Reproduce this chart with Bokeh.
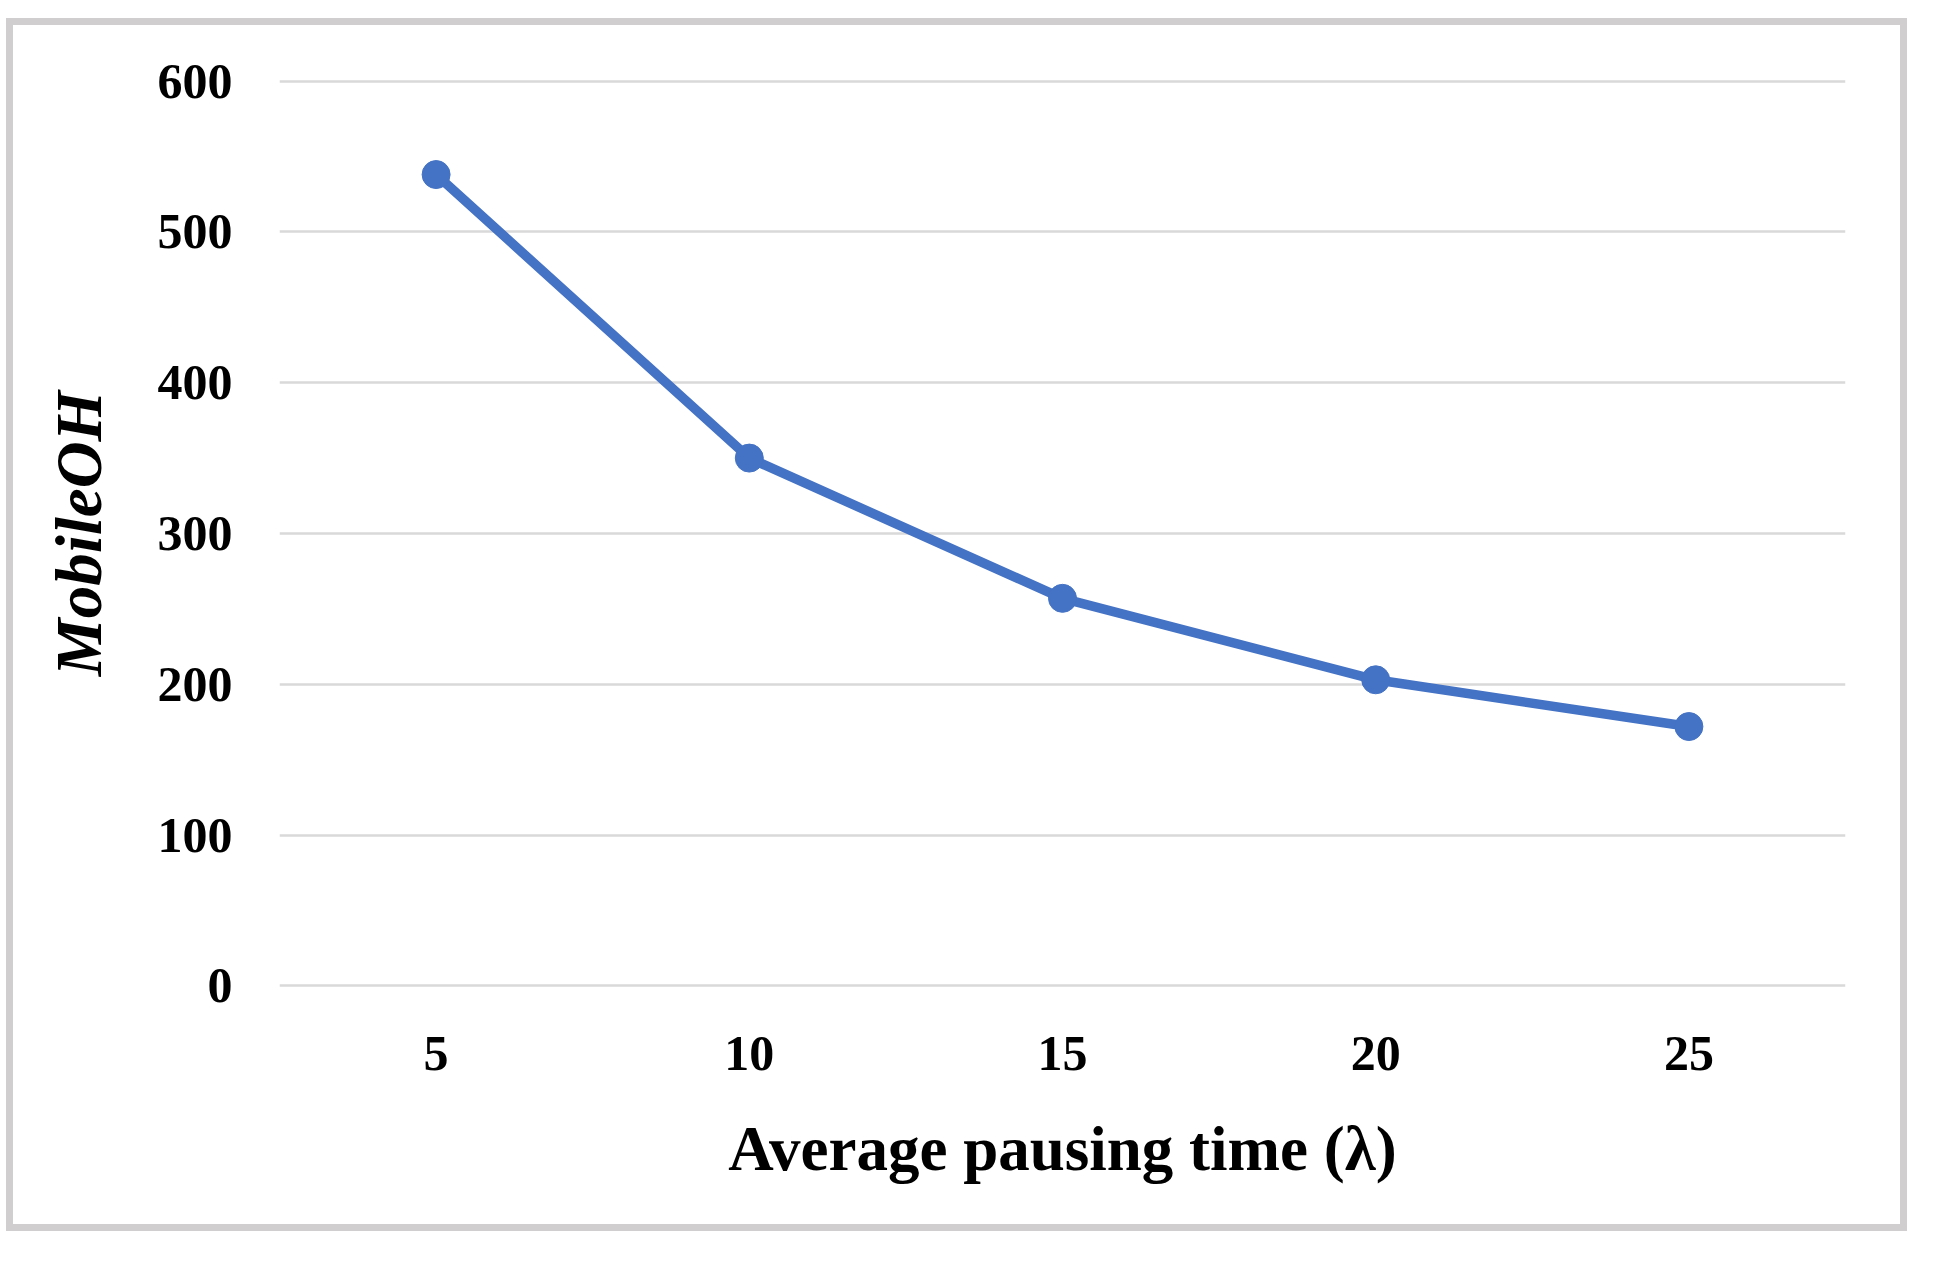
from bokeh.plotting import figure
from bokeh.models import Range1d, FixedTicker, Spacer
from bokeh.layouts import column, row
from bokeh.embed import file_html
from bokeh.resources import INLINE

# Data
pausing_time = [5, 10, 15, 20, 25]
mobile_oh = [538, 350, 257, 203, 172]
y_ticks = [0, 100, 200, 300, 400, 500, 600]

LINE_COLOR = "#4472C4"
FONT = "Liberation Serif"

p = figure(
    width=1901, height=1213,
    output_backend="svg", toolbar_location=None,
    x_range=Range1d(2.5, 27.5), y_range=Range1d(-5, 605),
    min_border_left=266, min_border_right=69,
    min_border_top=48, min_border_bottom=245,
)
p.styles = {"border": "7px solid #D0CECE"}
p.outline_line_color = None
p.background_fill_color = "white"
p.border_fill_color = "white"

p.line(pausing_time, mobile_oh, line_color=LINE_COLOR, line_width=9.5)
p.scatter(pausing_time, mobile_oh, size=28, fill_color=LINE_COLOR, line_color=LINE_COLOR)

# Grid
p.xgrid.grid_line_color = None
p.ygrid.grid_line_color = "#D9D9D9"
p.ygrid.grid_line_width = 2.5
p.ygrid.ticker = FixedTicker(ticks=y_ticks)

# Axes
p.xaxis.ticker = FixedTicker(ticks=pausing_time)
p.yaxis.ticker = FixedTicker(ticks=y_ticks)
for ax in (p.xaxis[0], p.yaxis[0]):
    ax.axis_line_color = None
    ax.major_tick_line_color = None
    ax.minor_tick_line_color = None
    ax.major_label_text_font = FONT
    ax.major_label_text_font_style = "bold"
    ax.major_label_text_font_size = "50px"
    ax.major_label_text_color = "black"
    ax.axis_label_text_font = FONT
    ax.axis_label_text_color = "black"

p.yaxis.major_label_standoff = 41
p.xaxis.major_label_standoff = 37

p.xaxis.axis_label = "Average pausing time (λ)"
p.xaxis.axis_label_text_font_style = "bold"
p.xaxis.axis_label_text_font_size = "63px"
p.xaxis.axis_label_standoff = 41

p.yaxis.axis_label = "MobileOH"
p.yaxis.axis_label_text_font_style = "bold italic"
p.yaxis.axis_label_text_font_size = "65px"
p.yaxis.axis_label_standoff = 40

layout = column(Spacer(height=18), row(Spacer(width=6), p))

open("out.html", "w").write(file_html(layout, INLINE))
